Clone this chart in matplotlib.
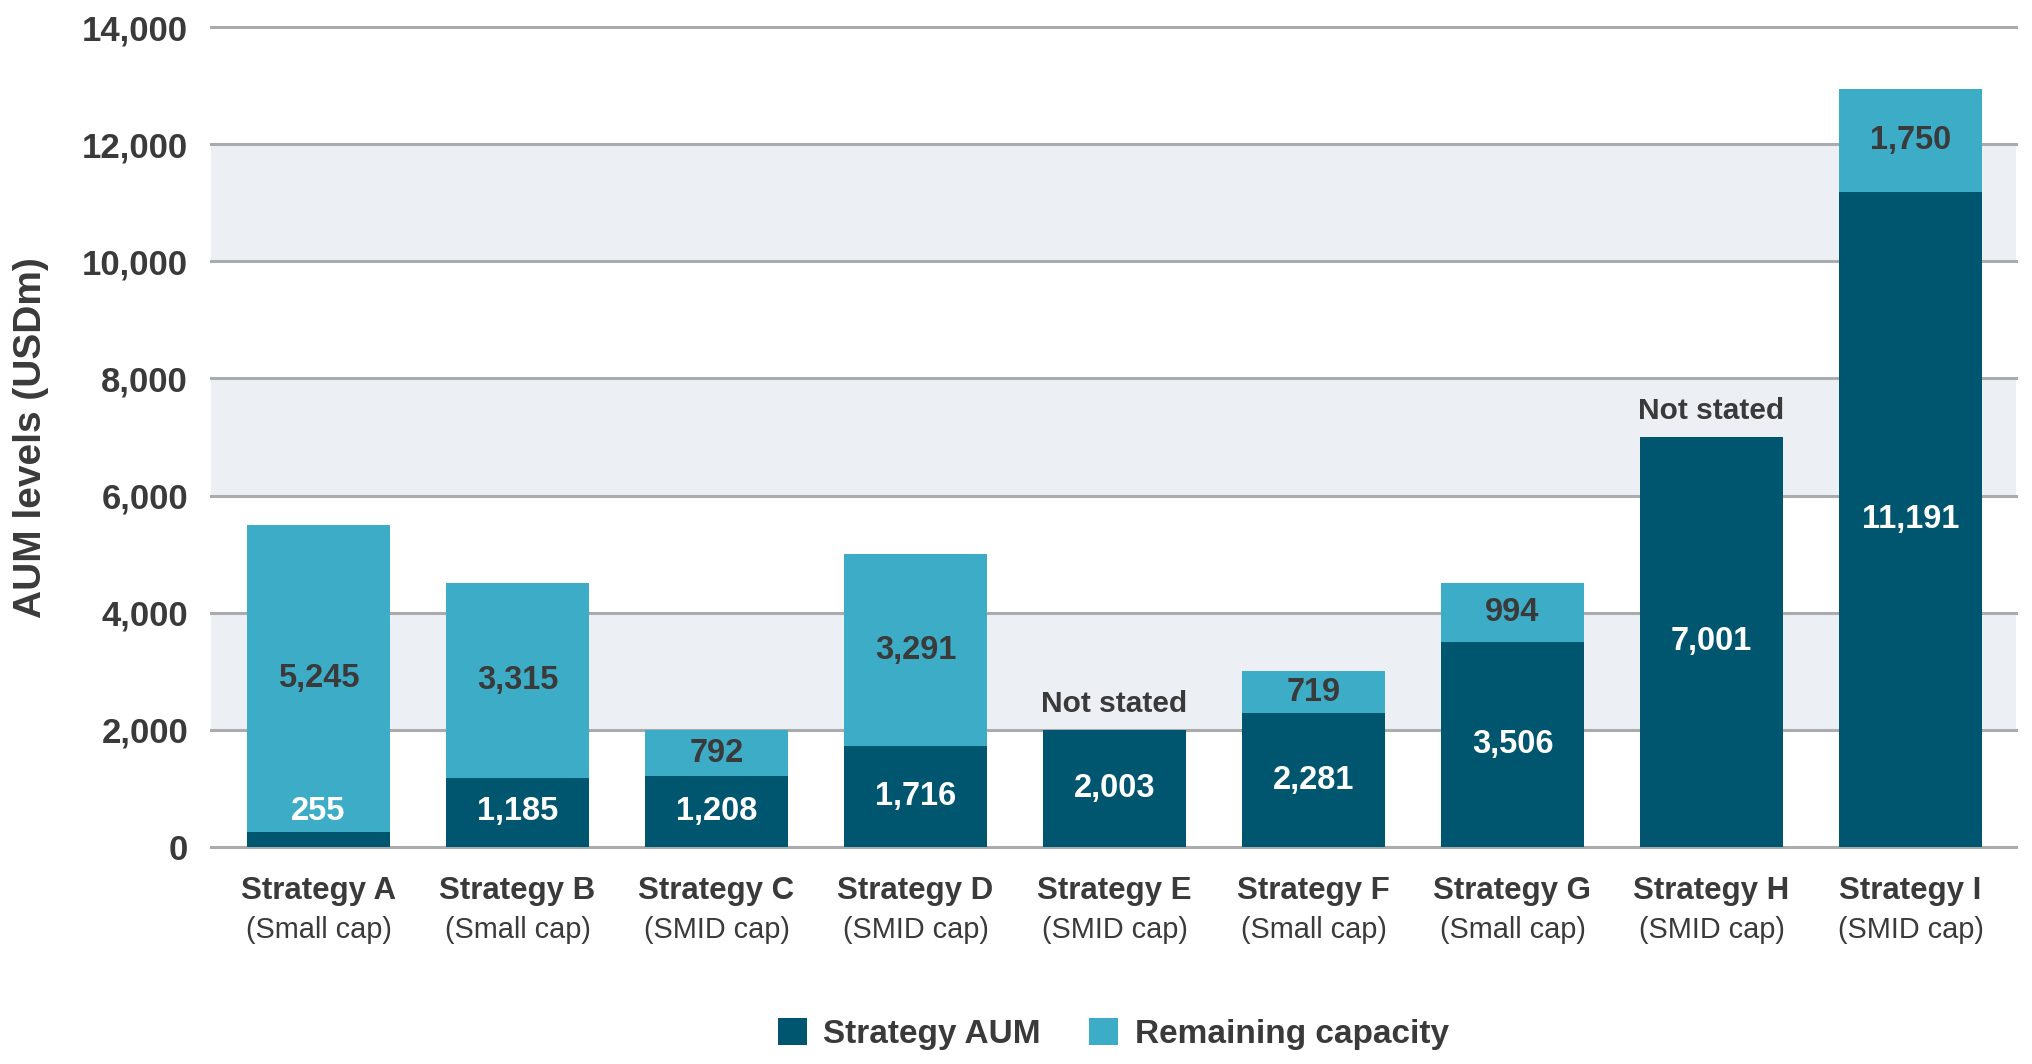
import matplotlib.pyplot as plt
import numpy as np

# Data (USDm)
strategies = ['Strategy A', 'Strategy B', 'Strategy C', 'Strategy D', 'Strategy E',
              'Strategy F', 'Strategy G', 'Strategy H', 'Strategy I']
caps = ['(Small cap)', '(Small cap)', '(SMID cap)', '(SMID cap)', '(SMID cap)',
        '(Small cap)', '(Small cap)', '(SMID cap)', '(SMID cap)']
aum = [255, 1185, 1208, 1716, 2003, 2281, 3506, 7001, 11191]
# None = capacity not stated
remaining = [5245, 3315, 792, 3291, None, 719, 994, None, 1750]

yticks = [0, 2000, 4000, 6000, 8000, 10000, 12000, 14000]

# Colours
dark = '#00566E'
light = '#3DACC6'
band = '#ECEFF4'
grid = '#A9ABAD'
txt = '#3A3A3A'

plt.rcParams['font.family'] = ['Liberation Sans', 'DejaVu Sans']

fig = plt.figure(figsize=(20.33, 10.64), dpi=100)
ax = fig.add_axes([0.1038, 0.204, 0.8878, 0.7706])

x = np.arange(len(strategies))
rem = np.array([r if r is not None else 0 for r in remaining], dtype=float)

# Shaded bands between alternating gridlines
for lo in [2000, 6000, 10000]:
    ax.axhspan(lo, lo + 2000, color=band, zorder=0, lw=0)
for t in yticks:
    ax.axhline(t, color=grid, lw=2.2, zorder=1, clip_on=False)

w = 0.715
ax.bar(x, aum, width=w, color=dark, zorder=2, label='Strategy AUM')
ax.bar(x, rem, width=w, bottom=aum, color=light, zorder=2, label='Remaining capacity')

# Value labels
for i in range(len(x)):
    ya = max(aum[i] / 2, 600)
    ax.text(x[i], ya, f'{aum[i]:,}', ha='center', va='center', color='white',
            fontsize=23.5, fontweight='bold', zorder=3)
    if remaining[i] is None:
        ax.text(x[i], aum[i] + 440, 'Not stated', ha='center', va='center', color=txt,
                fontsize=21.5, fontweight='bold', zorder=3)
    else:
        ax.text(x[i], aum[i] + rem[i] / 2, f'{remaining[i]:,}', ha='center', va='center',
                color=txt, fontsize=23.5, fontweight='bold', zorder=3)

ax.set_xlim(-0.54, 8.53)
ax.set_ylim(0, 14000)
ax.set_yticks(yticks)
ax.set_yticklabels([f'{t:,}' for t in yticks], fontsize=25, fontweight='bold', color=txt)
ax.tick_params(axis='y', length=0, pad=16.5)
ax.set_xticks([])
for s in ax.spines.values():
    s.set_visible(False)

# Two-line category labels (bold name, regular cap size)
for i in range(len(x)):
    ax.text(x[i], -750, strategies[i], ha='center', va='center', color=txt,
            fontsize=22.5, fontweight='bold')
    ax.text(x[i], -1415, caps[i], ha='center', va='center', color=txt, fontsize=20.8)

# y axis title
fig.text(0.0152, 0.589, 'AUM levels (USDm)', rotation=90, ha='center', va='center',
         fontsize=28, fontweight='bold', color=txt)

leg = fig.legend(loc='center', bbox_to_anchor=(0.5477, 0.028), ncol=2, frameon=False,
                 prop={'size': 24, 'weight': 'bold'}, handlelength=0.87, handleheight=0.87,
                 handletextpad=0.5, columnspacing=1.45)
for t in leg.get_texts():
    t.set_color(txt)

plt.savefig('out.png', dpi=100)
